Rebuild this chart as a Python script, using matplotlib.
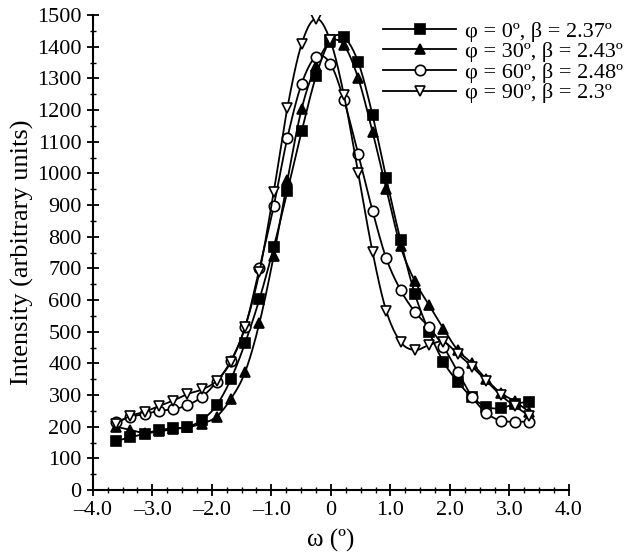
import numpy as np
import matplotlib
matplotlib.use('Agg')
import matplotlib.pyplot as plt
from matplotlib.ticker import MultipleLocator, FixedLocator

plt.rcParams['font.family'] = ['Liberation Serif', 'DejaVu Serif']

# omega positions (deg) shared by all four scans
omega = [-3.61, -3.37, -3.13, -2.89, -2.65, -2.41, -2.16, -1.92, -1.68, -1.44,
         -1.20, -0.96, -0.73, -0.49, -0.25, -0.01, 0.22, 0.46, 0.70, 0.93,
         1.17, 1.41, 1.65, 1.89, 2.13, 2.37, 2.61, 2.85, 3.09, 3.33]

phi0 = [155, 166, 178, 189, 195, 199, 222, 268, 350, 465,
        603, 767, 944, 1134, 1307, 1421, 1430, 1351, 1184, 985,
        789, 620, 500, 405, 342, 293, 263, 258, 272, 279]
phi30 = [200, 190, 180, 185, 192, 198, 210, 232, 288, 373,
         528, 740, 979, 1205, 1340, 1416, 1405, 1300, 1131, 952,
         770, 660, 584, 510, 442, 400, 350, 307, 280, 247]
phi60 = [215, 231, 240, 250, 255, 268, 295, 342, 408, 515,
         700, 897, 1113, 1284, 1368, 1347, 1231, 1061, 882, 732,
         632, 563, 514, 453, 374, 295, 244, 219, 216, 216]
phi90 = [210, 234, 247, 265, 282, 303, 318, 345, 405, 516,
         689, 942, 1208, 1410, 1489, 1420, 1247, 1000, 752, 566,
         468, 442, 458, 468, 430, 390, 345, 300, 265, 235]

labels = ['φ = 0º, β = 2.37º', 'φ = 30º, β = 2.43º',
          'φ = 60º, β = 2.48º', 'φ = 90º, β = 2.3º']
markers = ['s', '^', 'o', 'v']
fills = ['black', 'black', 'white', 'white']

xticks = [-4, -3, -2, -1, 0, 1, 2, 3, 4]
xticklabels = ['–4.0', '–3.0', '–2.0', '–1.0', '0', '1.0', '2.0', '3.0', '4.0']


def smooth(x, y, n=12):
    # catmull-rom curve through the points, like the smoothed lines of the original
    x = np.asarray(x, float)
    y = np.asarray(y, float)
    px = np.concatenate([[2 * x[0] - x[1]], x, [2 * x[-1] - x[-2]]])
    py = np.concatenate([[2 * y[0] - y[1]], y, [2 * y[-1] - y[-2]]])
    t = np.linspace(0, 1, n, endpoint=False)
    xs, ys = [], []
    for i in range(1, len(px) - 2):
        for arr, out in ((px, xs), (py, ys)):
            p0, p1, p2, p3 = arr[i - 1], arr[i], arr[i + 1], arr[i + 2]
            out.extend(0.5 * (2 * p1 + (-p0 + p2) * t
                              + (2 * p0 - 5 * p1 + 4 * p2 - p3) * t ** 2
                              + (-p0 + 3 * p1 - 3 * p2 + p3) * t ** 3))
    xs.append(x[-1])
    ys.append(y[-1])
    return xs, ys


fig = plt.figure(figsize=(6.4, 5.6), dpi=100)
ax = fig.add_axes([0.145, 0.125, 0.744, 0.848])

for y, m, fc, lab in zip([phi0, phi30, phi60, phi90], markers, fills, labels):
    sx, sy = smooth(omega, y)
    ax.plot(sx, sy, color='black', lw=1.3)
    ax.plot(omega, y, linestyle='none', marker=m, markersize=7.5,
            markerfacecolor=fc, markeredgecolor='black', markeredgewidth=1.2)
    ax.plot([], [], color='black', lw=1.3, marker=m, markersize=7.5,
            markerfacecolor=fc, markeredgecolor='black', markeredgewidth=1.2, label=lab)

ax.set_xlim(-4, 4)
ax.set_ylim(0, 1500)
ax.xaxis.set_major_locator(FixedLocator(xticks))
ax.set_xticklabels(xticklabels)
ax.xaxis.set_minor_locator(MultipleLocator(0.25))
ax.yaxis.set_major_locator(MultipleLocator(100))
ax.yaxis.set_minor_locator(MultipleLocator(50))
ax.tick_params(which='major', direction='inout', length=9, width=1.3, labelsize=16)
ax.tick_params(which='minor', direction='inout', length=5, width=1.0)
ax.spines['top'].set_visible(False)
ax.spines['right'].set_visible(False)
ax.spines['left'].set_linewidth(1.5)
ax.spines['bottom'].set_linewidth(1.5)

ax.set_xlabel('ω (º)', fontsize=18, labelpad=6)
ax.set_ylabel('Intensity (arbitrary units)', fontsize=19, labelpad=2)

fig.legend(loc='upper right', bbox_to_anchor=(0.998, 0.99), frameon=False,
           fontsize=16, handlelength=3.3, labelspacing=0.0, handletextpad=0.4,
           borderpad=0.2)

fig.savefig('out.png', dpi=100)
